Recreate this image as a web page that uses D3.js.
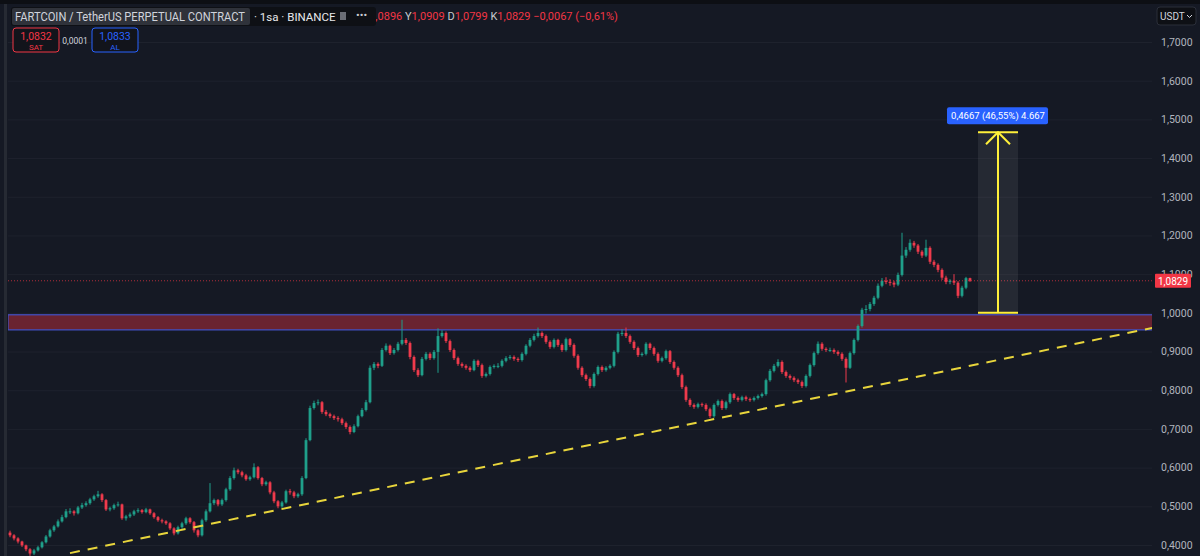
<!DOCTYPE html>
<html>
<head>
<meta charset="utf-8">
<script src="https://cdn.jsdelivr.net/npm/d3@7"></script>
<style>
  html, body { margin: 0; padding: 0; background: #151924; }
  svg { display: block; font-family: Roboto, "Noto Sans", sans-serif; }
</style>
</head>
<body>
<svg id="chart" width="1200" height="556"></svg>
<script>
// candle data (open = previous close)
const firstOpen = 0.432;
const closes = [
  0.425, 0.417, 0.409, 0.399, 0.389, 0.378, 0.386, 0.394, 0.407, 0.422,
  0.438, 0.448, 0.461, 0.472, 0.487, 0.487, 0.482, 0.497, 0.503, 0.508,
  0.518, 0.526, 0.531, 0.516, 0.492, 0.495, 0.503, 0.505, 0.469, 0.474,
  0.479, 0.487, 0.490, 0.485, 0.492, 0.482, 0.472, 0.464, 0.461, 0.456,
  0.443, 0.430, 0.446, 0.456, 0.469, 0.459, 0.438, 0.425, 0.464, 0.487,
  0.508, 0.516, 0.505, 0.516, 0.544, 0.573, 0.593, 0.588, 0.580, 0.570,
  0.575, 0.601, 0.573, 0.557, 0.562, 0.536, 0.513, 0.500, 0.510, 0.539,
  0.536, 0.526, 0.531, 0.573, 0.671, 0.754, 0.767, 0.769, 0.744, 0.738,
  0.733, 0.728, 0.725, 0.715, 0.705, 0.692, 0.707, 0.733, 0.749, 0.769,
  0.858, 0.868, 0.863, 0.904, 0.915, 0.896, 0.904, 0.920, 0.930, 0.922,
  0.886, 0.852, 0.839, 0.881, 0.894, 0.883, 0.899, 0.940, 0.948, 0.927,
  0.904, 0.883, 0.868, 0.863, 0.858, 0.852, 0.876, 0.865, 0.837, 0.842,
  0.860, 0.863, 0.863, 0.876, 0.883, 0.886, 0.881, 0.878, 0.894, 0.915,
  0.930, 0.940, 0.948, 0.940, 0.925, 0.912, 0.930, 0.917, 0.904, 0.932,
  0.917, 0.889, 0.858, 0.839, 0.829, 0.811, 0.842, 0.860, 0.852, 0.858,
  0.863, 0.899, 0.946, 0.948, 0.940, 0.925, 0.909, 0.891, 0.894, 0.920,
  0.909, 0.894, 0.876, 0.883, 0.901, 0.873, 0.858, 0.839, 0.808, 0.775,
  0.762, 0.757, 0.764, 0.762, 0.751, 0.733, 0.762, 0.772, 0.754, 0.769,
  0.790, 0.780, 0.775, 0.782, 0.777, 0.775, 0.780, 0.785, 0.790, 0.826,
  0.850, 0.863, 0.873, 0.847, 0.837, 0.832, 0.826, 0.821, 0.811, 0.837,
  0.865, 0.896, 0.920, 0.907, 0.904, 0.904, 0.899, 0.894, 0.881, 0.858,
  0.896, 0.930, 0.966, 1.008, 1.010, 1.023, 1.039, 1.070, 1.083, 1.080,
  1.078, 1.073, 1.098, 1.148, 1.163, 1.181, 1.174, 1.158, 1.148, 1.168,
  1.132, 1.124, 1.111, 1.091, 1.080, 1.083, 1.078, 1.044, 1.065, 1.0896,
  1.0829
];
const highs = [
  0.437, 0.428, 0.420, 0.411, 0.401, 0.392, 0.390, 0.398, 0.410, 0.426,
  0.442, 0.452, 0.466, 0.478, 0.493, 0.495, 0.490, 0.501, 0.509, 0.513,
  0.522, 0.530, 0.540, 0.534, 0.519, 0.499, 0.507, 0.512, 0.507, 0.478,
  0.484, 0.491, 0.495, 0.493, 0.496, 0.494, 0.485, 0.475, 0.468, 0.464,
  0.459, 0.446, 0.450, 0.460, 0.473, 0.472, 0.462, 0.441, 0.468, 0.492,
  0.560, 0.520, 0.519, 0.520, 0.548, 0.578, 0.600, 0.597, 0.592, 0.584,
  0.579, 0.611, 0.604, 0.576, 0.566, 0.565, 0.540, 0.516, 0.514, 0.543,
  0.545, 0.540, 0.535, 0.578, 0.676, 0.760, 0.773, 0.776, 0.772, 0.749,
  0.742, 0.737, 0.733, 0.729, 0.719, 0.709, 0.712, 0.737, 0.754, 0.775,
  0.864, 0.873, 0.872, 0.909, 0.921, 0.918, 0.909, 0.925, 0.982, 0.935,
  0.926, 0.890, 0.857, 0.886, 0.899, 0.898, 0.904, 0.960, 0.955, 0.952,
  0.931, 0.908, 0.887, 0.872, 0.867, 0.862, 0.880, 0.879, 0.869, 0.846,
  0.864, 0.867, 0.870, 0.880, 0.888, 0.891, 0.890, 0.885, 0.898, 0.919,
  0.935, 0.946, 0.962, 0.952, 0.944, 0.929, 0.934, 0.933, 0.921, 0.936,
  0.935, 0.921, 0.893, 0.862, 0.843, 0.833, 0.846, 0.864, 0.864, 0.862,
  0.867, 0.903, 0.951, 0.958, 0.962, 0.944, 0.929, 0.913, 0.898, 0.924,
  0.923, 0.913, 0.898, 0.887, 0.905, 0.904, 0.877, 0.862, 0.843, 0.812,
  0.779, 0.766, 0.768, 0.768, 0.766, 0.755, 0.766, 0.776, 0.776, 0.773,
  0.794, 0.793, 0.784, 0.786, 0.786, 0.781, 0.784, 0.789, 0.794, 0.830,
  0.855, 0.868, 0.880, 0.877, 0.851, 0.841, 0.836, 0.830, 0.825, 0.841,
  0.869, 0.900, 0.926, 0.924, 0.911, 0.910, 0.908, 0.903, 0.898, 0.885,
  0.900, 0.934, 0.970, 1.013, 1.020, 1.028, 1.044, 1.076, 1.090, 1.092,
  1.087, 1.083, 1.104, 1.207, 1.170, 1.190, 1.186, 1.178, 1.162, 1.189,
  1.172, 1.137, 1.128, 1.115, 1.096, 1.087, 1.100, 1.082, 1.070, 1.093,
  1.0909
];
const lows = [
  0.420, 0.412, 0.404, 0.395, 0.384, 0.372, 0.374, 0.383, 0.391, 0.404,
  0.419, 0.434, 0.445, 0.458, 0.469, 0.480, 0.476, 0.479, 0.493, 0.499,
  0.504, 0.514, 0.522, 0.511, 0.488, 0.487, 0.491, 0.499, 0.465, 0.463,
  0.470, 0.475, 0.483, 0.481, 0.482, 0.478, 0.468, 0.460, 0.456, 0.452,
  0.439, 0.425, 0.427, 0.442, 0.452, 0.455, 0.432, 0.420, 0.422, 0.460,
  0.484, 0.503, 0.500, 0.501, 0.512, 0.540, 0.569, 0.583, 0.575, 0.566,
  0.566, 0.572, 0.569, 0.552, 0.553, 0.531, 0.508, 0.495, 0.496, 0.507,
  0.530, 0.521, 0.522, 0.527, 0.570, 0.668, 0.750, 0.761, 0.739, 0.733,
  0.728, 0.723, 0.719, 0.710, 0.700, 0.686, 0.689, 0.704, 0.730, 0.745,
  0.766, 0.852, 0.857, 0.860, 0.900, 0.891, 0.892, 0.900, 0.916, 0.917,
  0.880, 0.847, 0.834, 0.836, 0.877, 0.878, 0.879, 0.845, 0.936, 0.922,
  0.899, 0.878, 0.863, 0.858, 0.853, 0.847, 0.849, 0.860, 0.832, 0.833,
  0.838, 0.856, 0.857, 0.859, 0.872, 0.879, 0.876, 0.873, 0.874, 0.890,
  0.911, 0.926, 0.936, 0.935, 0.920, 0.907, 0.908, 0.912, 0.899, 0.900,
  0.912, 0.884, 0.853, 0.834, 0.824, 0.805, 0.807, 0.838, 0.847, 0.848,
  0.854, 0.859, 0.895, 0.940, 0.935, 0.920, 0.904, 0.886, 0.887, 0.890,
  0.904, 0.889, 0.871, 0.872, 0.879, 0.868, 0.853, 0.834, 0.803, 0.770,
  0.757, 0.752, 0.753, 0.757, 0.746, 0.728, 0.729, 0.758, 0.749, 0.750,
  0.765, 0.775, 0.770, 0.771, 0.772, 0.770, 0.771, 0.776, 0.781, 0.786,
  0.822, 0.846, 0.859, 0.842, 0.832, 0.827, 0.821, 0.816, 0.806, 0.807,
  0.833, 0.861, 0.892, 0.902, 0.899, 0.899, 0.894, 0.889, 0.876, 0.820,
  0.855, 0.892, 0.926, 0.962, 0.998, 1.004, 1.018, 1.035, 1.066, 1.074,
  1.070, 1.066, 1.069, 1.094, 1.142, 1.158, 1.168, 1.152, 1.142, 1.144,
  1.126, 1.118, 1.105, 1.085, 1.074, 1.074, 1.072, 1.038, 1.040, 1.061,
  1.0799
];

const priceTicks = [0.4, 0.5, 0.6, 0.7, 0.8, 0.9, 1.0, 1.1, 1.2, 1.3, 1.4, 1.5, 1.6, 1.7];
const zone = [0.956, 0.995];
const trendLine = [[15, 0.379], [286, 0.962]];
const target = { start: 242, end: 252, from: 1.0, to: 1.4667 };
const targetLabel = "0,4667 (46,55%) 4.667";
const lastPrice = 1.0829;
const ohlcLabels = [["A", "1,0896"], ["Y", "1,0909"], ["D", "1,0799"], ["K", "1,0829"]];
const ohlcChange = "\u22120,0067 (\u22120,61%)";

const svg = d3.select("#chart");
const W = 1200, H = 556;
const plotLeft = 8, plotRight = 1152;

const x = d3.scaleLinear().domain([0, closes.length - 1]).range([10, 970]);
const y = d3.scaleLinear().domain([0.4, 1.7]).range([545, 42]);
const comma = v => d3.format(".4f")(v).replace(".", ",");

svg.append("rect").attr("width", W).attr("height", H).attr("fill", "#151924");

const defs = svg.append("defs");
defs.append("clipPath").attr("id", "plot")
    .append("rect").attr("x", plotLeft).attr("y", 4)
    .attr("width", plotRight - plotLeft).attr("height", H - 4);
// the legend box covers the start of the OHLC line
defs.append("clipPath").attr("id", "ohlc-clip")
    .append("rect").attr("x", 376).attr("y", 4).attr("width", 400).attr("height", 24);

// horizontal grid
svg.append("g")
    .attr("transform", `translate(${plotLeft},0)`)
    .call(d3.axisRight(y).tickValues(priceTicks).tickSize(plotRight - plotLeft).tickFormat(""))
    .call(g => g.select(".domain").remove())
    .call(g => g.selectAll("line").attr("stroke", "#1e222d"));

// price axis
svg.append("g")
    .attr("transform", "translate(1156,0)")
    .call(d3.axisRight(y).tickValues(priceTicks).tickSize(0).tickPadding(5).tickFormat(comma))
    .call(g => g.select(".domain").remove())
    .call(g => g.selectAll("text")
        .attr("fill", "#b2b5be").attr("font-size", 10.5).attr("font-family", "Roboto, sans-serif"));

const plot = svg.append("g").attr("clip-path", "url(#plot)");

// resistance zone
plot.append("rect")
    .attr("x", plotLeft).attr("width", plotRight - plotLeft + 4)
    .attr("y", y(zone[1])).attr("height", y(zone[0]) - y(zone[1]))
    .attr("fill", "#6a2331").attr("stroke", "#4352c8").attr("stroke-width", 1.2);

// candles
const candles = closes.map((c, i) => {
    const o = i === 0 ? firstOpen : closes[i - 1];
    return { i, o, c, h: Math.max(highs[i], o, c), l: Math.min(lows[i], o, c) };
});
const bull = "#1f9f8a", bear = "#ef3a4c";

const cg = plot.append("g").selectAll("g").data(candles).join("g");
cg.append("line")
    .attr("x1", d => x(d.i)).attr("x2", d => x(d.i))
    .attr("y1", d => y(d.h)).attr("y2", d => y(d.l))
    .attr("stroke", d => d.c >= d.o ? bull : bear).attr("stroke-width", 1);
cg.append("rect")
    .attr("x", d => x(d.i) - 1.4).attr("width", 2.8)
    .attr("y", d => y(Math.max(d.o, d.c)))
    .attr("height", d => Math.max(1, Math.abs(y(d.o) - y(d.c))))
    .attr("fill", d => d.c >= d.o ? bull : bear);

// rising trend line
plot.append("path")
    .datum(trendLine)
    .attr("d", d3.line().x(d => x(d[0])).y(d => y(d[1])))
    .attr("stroke", "#e8d53c").attr("stroke-width", 2)
    .attr("stroke-dasharray", "10,8").attr("fill", "none");

// last price line
plot.append("line")
    .attr("x1", plotLeft).attr("x2", plotRight)
    .attr("y1", y(lastPrice)).attr("y2", y(lastPrice))
    .attr("stroke", "#f23645").attr("stroke-opacity", 0.7)
    .attr("stroke-dasharray", "1,2");

// target measurement
const tx0 = x(target.start), tx1 = x(target.end), tm = (tx0 + tx1) / 2;
const ty0 = y(target.from), ty1 = y(target.to);
plot.append("rect")
    .attr("x", tx0).attr("width", tx1 - tx0)
    .attr("y", ty1).attr("height", ty0 - ty1)
    .attr("fill", "#ffffff").attr("fill-opacity", 0.07);
const yellow = "#fff03a";
plot.append("line").attr("x1", tm).attr("x2", tm).attr("y1", ty0).attr("y2", ty1)
    .attr("stroke", yellow).attr("stroke-width", 2);
plot.append("line").attr("x1", tx0).attr("x2", tx1).attr("y1", ty0).attr("y2", ty0)
    .attr("stroke", yellow).attr("stroke-width", 2);
plot.append("line").attr("x1", tx0).attr("x2", tx1).attr("y1", ty1).attr("y2", ty1)
    .attr("stroke", yellow).attr("stroke-width", 2);
plot.append("path")
    .attr("d", `M${tm - 12},${ty1 + 12}L${tm},${ty1}L${tm + 12},${ty1 + 12}`)
    .attr("stroke", yellow).attr("stroke-width", 2).attr("fill", "none");

svg.append("rect")
    .attr("x", tm - 51).attr("y", ty1 - 25).attr("width", 101).attr("height", 17).attr("rx", 2)
    .attr("fill", "#2962ff");
svg.append("text")
    .attr("x", tm).attr("y", ty1 - 13).attr("text-anchor", "middle")
    .attr("fill", "#ffffff").attr("font-size", 9.5).text(targetLabel);

// last price tag on axis, drawn over the 1,1000 label as in the original
svg.append("rect")
    .attr("x", 1155).attr("y", y(lastPrice) - 7).attr("width", 36).attr("height", 14)
    .attr("fill", "#f23645").attr("rx", 1);
svg.append("text")
    .attr("x", 1173).attr("y", y(lastPrice) + 4).attr("text-anchor", "middle")
    .attr("fill", "#ffffff").attr("font-size", 10).text(comma(lastPrice));

// frame bits
svg.append("rect").attr("width", W).attr("height", 4).attr("fill", "#0d0f14");
svg.append("rect").attr("x", 4).attr("y", 4).attr("width", 3).attr("height", H).attr("fill", "#262a33");

// OHLC line
const ohlc = svg.append("g").attr("clip-path", "url(#ohlc-clip)")
    .append("text").attr("x", 362).attr("y", 20).attr("font-size", 11);
ohlcLabels.forEach(([k, v]) => {
    ohlc.append("tspan").attr("fill", "#c9cbd1").text(k);
    ohlc.append("tspan").attr("fill", "#f23645").text(v + " ");
});
ohlc.append("tspan").attr("fill", "#f23645").text(ohlcChange);

// title box
svg.append("rect").attr("x", 11).attr("y", 7).attr("width", 365).attr("height", 19).attr("rx", 3)
    .attr("fill", "#0e1015");
svg.append("rect").attr("x", 12).attr("y", 8).attr("width", 238).attr("height", 17).attr("rx", 2)
    .attr("fill", "#2f323a");
svg.append("text").attr("x", 15).attr("y", 21).attr("font-size", 12).attr("fill", "#d1d4dc")
    .attr("textLength", 230).attr("lengthAdjust", "spacingAndGlyphs")
    .text("FARTCOIN / TetherUS PERPETUAL CONTRACT");
svg.append("text").attr("x", 254).attr("y", 21).attr("font-size", 11.5).attr("fill", "#e8e9ec")
    .text("\u00b7 1sa \u00b7 BINANCE");
svg.append("rect").attr("x", 340).attr("y", 12).attr("width", 6).attr("height", 8).attr("fill", "#6a6d75");
svg.append("text").attr("x", 356).attr("y", 19).attr("font-size", 11).attr("fill", "#c9cbd1").text("\u2022\u2022\u2022");

// buy / sell buttons
const buttons = [
    { x: 13, price: "1,0832", label: "SAT", color: "#f23645" },
    { x: 92, price: "1,0833", label: "AL", color: "#2962ff" }
];
buttons.forEach(b => {
    svg.append("rect").attr("x", b.x).attr("y", 28).attr("width", 46).attr("height", 24).attr("rx", 3)
        .attr("fill", "#12141b").attr("stroke", b.color).attr("stroke-width", 1);
    svg.append("text").attr("x", b.x + 23).attr("y", 40).attr("text-anchor", "middle")
        .attr("font-size", 10.5).attr("fill", b.color).text(b.price);
    svg.append("text").attr("x", b.x + 23).attr("y", 50).attr("text-anchor", "middle")
        .attr("font-size", 8).attr("fill", b.color).text(b.label);
});
svg.append("text").attr("x", 75).attr("y", 44).attr("text-anchor", "middle")
    .attr("font-size", 8.5).attr("fill", "#d1d4dc").text("0,0001");

// currency selector
svg.append("rect").attr("x", 1157).attr("y", 7).attr("width", 39).attr("height", 18).attr("rx", 3)
    .attr("fill", "#0e1015").attr("stroke", "#2a2e39");
svg.append("text").attr("x", 1160).attr("y", 20).attr("font-size", 10).attr("fill", "#d1d4dc").text("USDT");
svg.append("path").attr("d", "M1187,15l2.5,2.5l2.5,-2.5").attr("stroke", "#d1d4dc").attr("fill", "none");
</script>
</body>
</html>
